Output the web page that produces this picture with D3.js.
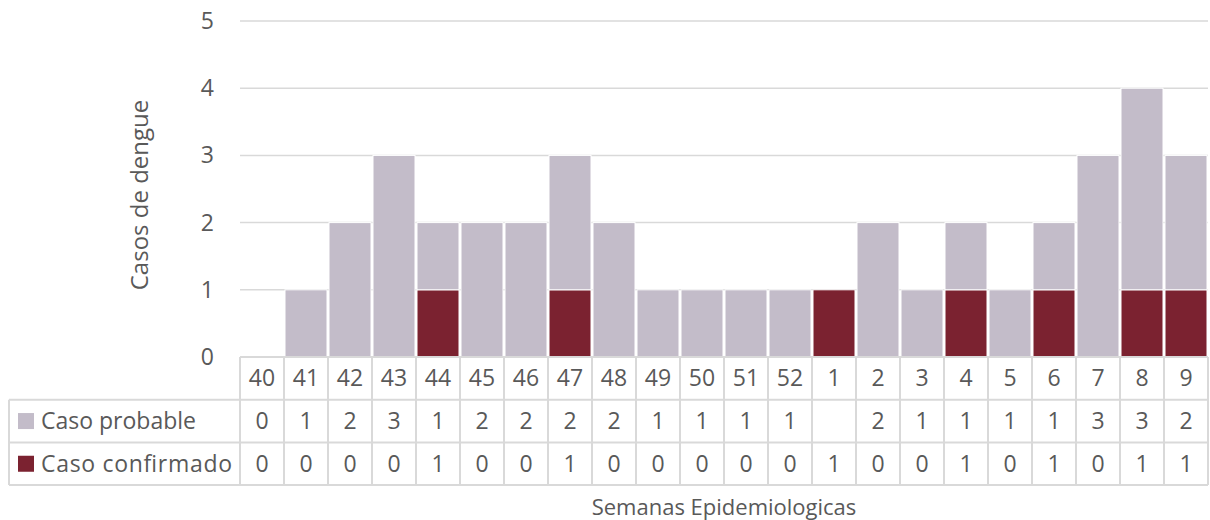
<!DOCTYPE html>
<html>
<head>
<meta charset="utf-8">
<script src="https://cdn.jsdelivr.net/npm/d3@7"></script>
<style>
  body { margin: 0; background: #fff; }
  text { font-family: "Open Sans", "Noto Sans", sans-serif; fill: #595959; }
</style>
</head>
<body>
<div id="chart"></div>
<script>
// data
const weeks = ["40","41","42","43","44","45","46","47","48","49","50","51","52","1","2","3","4","5","6","7","8","9"];
const probable = [0,1,2,3,1,2,2,2,2,1,1,1,1,null,2,1,1,1,1,3,3,2];
const confirmed = [0,0,0,0,1,0,0,1,0,0,0,0,0,1,0,0,1,0,1,0,1,1];
const yTicks = [0,1,2,3,4,5];
const seriesNames = ["Caso probable", "Caso confirmado"];
const colors = { probable: "#C3BCC9", confirmed: "#7B2230" };

const width = 1210, height = 520;
const plot = { left: 240, right: 1208, top: 21, bottom: 357 };
const rowH = 42.7;
const legendLeft = 9;
const fs = 23;

const svg = d3.select("#chart").append("svg")
  .attr("width", width).attr("height", height);

const x = d3.scaleBand().domain(weeks).range([plot.left, plot.right]).padding(0);
const y = d3.scaleLinear().domain([0, 5]).range([plot.bottom, plot.top]);

// gridlines
svg.append("g").selectAll("line").data(yTicks.filter(d => d > 0)).join("line")
  .attr("x1", plot.left).attr("x2", plot.right)
  .attr("y1", d => y(d)).attr("y2", d => y(d))
  .attr("stroke", "#D9D9D9").attr("stroke-width", 1.5);

// y tick labels
svg.append("g").selectAll("text").data(yTicks).join("text")
  .attr("x", 214).attr("y", d => y(d))
  .attr("dy", "0.35em")
  .attr("text-anchor", "end")
  .attr("font-size", fs)
  .text(d => d);

// stacked bars
const rows = weeks.map((w, i) => ({ w, p: probable[i] || 0, c: confirmed[i] }));
const bars = svg.append("g");
bars.selectAll("rect.c").data(rows.filter(d => d.c > 0)).join("rect")
  .attr("class", "c")
  .attr("x", d => x(d.w) + 1).attr("width", x.bandwidth() - 2)
  .attr("y", d => y(d.c)).attr("height", d => y(0) - y(d.c))
  .attr("fill", colors.confirmed).attr("stroke", "#fff").attr("stroke-width", 1);
bars.selectAll("rect.p").data(rows.filter(d => d.p > 0)).join("rect")
  .attr("class", "p")
  .attr("x", d => x(d.w) + 1).attr("width", x.bandwidth() - 2)
  .attr("y", d => y(d.c + d.p)).attr("height", d => y(d.c) - y(d.c + d.p))
  .attr("fill", colors.probable).attr("stroke", "#fff").attr("stroke-width", 1);

// data table
const t = svg.append("g").attr("stroke", "#D9D9D9").attr("stroke-width", 2);
const r0 = plot.bottom, r1 = r0 + rowH, r2 = r1 + rowH, r3 = r2 + rowH;
t.append("line").attr("x1", plot.left).attr("x2", plot.right).attr("y1", r0).attr("y2", r0);
[r1, r2, r3].forEach(yy => {
  t.append("line").attr("x1", legendLeft).attr("x2", plot.right).attr("y1", yy).attr("y2", yy);
});
t.append("line").attr("x1", legendLeft).attr("x2", legendLeft).attr("y1", r1).attr("y2", r3);
const bounds = weeks.map(w => x(w)).concat([plot.right]);
t.selectAll("line.v").data(bounds).join("line")
  .attr("class", "v")
  .attr("x1", d => d).attr("x2", d => d)
  .attr("y1", r0).attr("y2", r3);

// category labels
svg.append("g").selectAll("text").data(weeks).join("text")
  .attr("x", d => x(d) + x.bandwidth() / 2).attr("y", r0 + rowH / 2)
  .attr("dy", "0.35em").attr("text-anchor", "middle").attr("font-size", fs)
  .text(d => d);

// value rows
[[probable, r1], [confirmed, r2]].forEach(([vals, top]) => {
  svg.append("g").selectAll("text").data(weeks).join("text")
    .attr("x", d => x(d) + x.bandwidth() / 2).attr("y", top + rowH / 2)
    .attr("dy", "0.35em").attr("text-anchor", "middle").attr("font-size", fs)
    .text((d, i) => vals[i] == null ? "" : vals[i]);
});

// legend keys
const keys = [colors.probable, colors.confirmed];
seriesNames.forEach((name, i) => {
  const top = r1 + i * rowH;
  svg.append("rect").attr("x", 18).attr("y", top + rowH / 2 - 8)
    .attr("width", 16).attr("height", 16).attr("fill", keys[i]);
  svg.append("text").attr("x", 41).attr("y", top + rowH / 2)
    .attr("dy", "0.35em").attr("font-size", fs)
    .attr("textLength", i === 1 ? 191 : null)
    .text(name);
});

// axis titles
svg.append("text")
  .attr("transform", `translate(148, ${(plot.top + plot.bottom) / 2 + 6}) rotate(-90)`)
  .attr("text-anchor", "middle").attr("font-size", 24)
  .text("Casos de dengue");
svg.append("text")
  .attr("x", (plot.left + plot.right) / 2).attr("y", 507)
  .attr("dy", "0.35em")
  .attr("text-anchor", "middle").attr("font-size", 22)
  .text("Semanas Epidemiologicas");
</script>
</body>
</html>
